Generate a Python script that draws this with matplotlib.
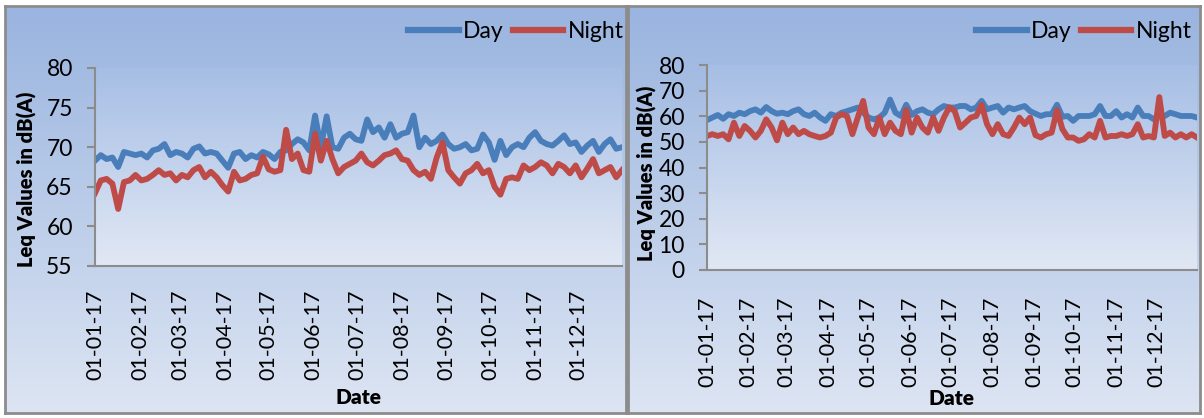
import numpy as np
import pandas as pd
import matplotlib

matplotlib.use("Agg")
import matplotlib.pyplot as plt
import matplotlib.dates as mdates
from matplotlib.colors import LinearSegmentedColormap

plt.rcParams["font.family"] = ["Lato", "DejaVu Sans"]

# Leq values, one value every 4 days from 01-01-2017
day_left = [
    68.3, 69.0, 68.5, 68.7, 67.5, 69.4, 69.2, 69.0, 69.2, 68.7,
    69.6, 69.8, 70.4, 69.0, 69.4, 69.2, 68.7, 69.8, 70.1, 69.2,
    69.4, 69.2, 68.3, 67.4, 69.2, 69.4, 68.5, 69.0, 68.7, 69.4,
    69.1, 68.5, 69.4, 69.6, 70.4, 71.0, 70.6, 69.6, 74.0, 70.0,
    73.9, 70.0, 69.8, 71.2, 71.7, 71.0, 70.8, 73.5, 71.9, 72.5,
    71.2, 72.9, 71.2, 71.7, 71.9, 74.0, 70.0, 71.2, 70.4, 70.8,
    71.6, 70.4, 69.8, 70.0, 70.4, 69.6, 69.8, 71.6, 70.6, 68.4,
    70.8, 69.0, 70.0, 70.4, 70.0, 71.2, 71.9, 70.8, 70.4, 70.2,
    70.8, 71.5, 70.4, 70.6, 69.4, 70.2, 70.8, 69.4, 70.4, 71.0,
    69.8, 70.0,
]
night_left = [
    64.2, 65.8, 66.0, 65.4, 62.2, 65.6, 65.8, 66.5, 65.8, 66.0,
    66.5, 67.1, 66.5, 66.7, 65.8, 66.5, 66.2, 67.1, 67.5, 66.2,
    66.9, 66.2, 65.2, 64.4, 66.9, 65.8, 66.0, 66.5, 66.7, 68.8,
    67.2, 66.9, 67.1, 72.2, 68.5, 69.2, 67.1, 66.9, 71.7, 68.3,
    70.8, 68.5, 66.7, 67.5, 67.9, 68.3, 69.2, 68.1, 67.7, 68.3,
    69.0, 69.2, 69.6, 68.5, 68.3, 67.1, 66.5, 66.9, 66.0, 68.7,
    70.6, 67.1, 66.2, 65.4, 66.7, 67.1, 67.9, 66.7, 67.1, 65.0,
    64.0, 66.0, 66.2, 66.0, 67.7, 67.1, 67.5, 68.1, 67.7, 66.7,
    67.9, 67.5, 66.7, 67.7, 66.2, 67.3, 68.5, 66.7, 67.1, 67.5,
    66.2, 67.1,
]
day_right = [
    58.5, 59.5, 60.5, 59.0, 60.8, 60.1, 61.4, 60.8, 62.0, 62.7,
    61.4, 63.6, 62.0, 61.0, 61.4, 60.8, 62.0, 62.7, 60.8, 60.1,
    61.4, 59.5, 58.2, 60.8, 60.1, 61.4, 62.0, 62.7, 63.4, 61.4,
    59.5, 58.8, 59.5, 61.4, 66.5, 61.4, 60.1, 64.5, 60.5, 62.0,
    62.7, 61.4, 60.8, 62.7, 64.0, 63.4, 63.4, 64.0, 64.0, 62.7,
    63.4, 66.0, 62.7, 63.4, 64.0, 61.4, 63.4, 62.7, 63.4, 64.0,
    62.0, 61.0, 60.1, 60.8, 60.8, 64.5, 59.8, 60.1, 58.2, 60.1,
    60.1, 60.1, 60.8, 64.0, 60.1, 60.1, 62.0, 59.5, 60.8, 59.5,
    63.4, 60.1, 60.1, 58.8, 60.8, 60.1, 61.4, 60.8, 60.1, 60.1,
    60.1, 59.5,
]
night_right = [
    52.3, 53.0, 52.3, 53.0, 51.0, 57.5, 52.3, 56.2, 54.3, 51.7,
    54.3, 58.8, 55.6, 50.6, 57.5, 53.0, 55.6, 53.0, 54.3, 53.0,
    52.3, 51.7, 52.3, 53.6, 59.5, 60.8, 60.1, 53.0, 59.5, 66.0,
    55.6, 53.0, 59.5, 53.0, 57.5, 54.3, 53.0, 62.5, 53.6, 59.5,
    55.6, 53.6, 59.5, 54.3, 59.5, 63.5, 62.0, 55.6, 57.5, 59.5,
    60.1, 64.5, 56.9, 53.0, 56.9, 53.0, 52.3, 55.6, 59.5, 56.9,
    59.5, 52.6, 51.7, 53.0, 53.6, 62.5, 55.0, 51.7, 51.7, 50.4,
    51.0, 53.0, 51.7, 58.2, 51.7, 52.3, 52.3, 53.0, 52.3, 53.0,
    56.9, 51.7, 52.3, 51.7, 67.5, 52.3, 53.6, 51.7, 53.0, 51.7,
    53.0, 51.7,
]
left_yticks = [55, 60, 65, 70, 75, 80]
right_yticks = [0, 10, 20, 30, 40, 50, 60, 70, 80]

dates = pd.date_range("2017-01-01", periods=len(day_left), freq="4D")

W, H = 1204, 418
BLUE = "#4A7EBB"
RED = "#BE4B48"
GREY = "#8C8C8C"
FS = 16.5

fig = plt.figure(figsize=(W / 100, H / 100), dpi=100)


def box(x0, y0, x1, y1):
    return [x0 / W, 1 - y1 / H, (x1 - x0) / W, (y1 - y0) / H]


def gradient_axes(rect, top, bottom, border):
    ax = fig.add_axes(rect)
    cmap = LinearSegmentedColormap.from_list("g", [bottom, top])
    ax.imshow(np.linspace(0, 1, 256).reshape(-1, 1), cmap=cmap,
              aspect="auto", extent=[0, 1, 0, 1], origin="lower")
    ax.set_xlim(0, 1)
    ax.set_ylim(0, 1)
    ax.set_xticks([])
    ax.set_yticks([])
    for s in ax.spines.values():
        s.set_visible(border)
        s.set_color(GREY)
        s.set_linewidth(2)
    return ax


def make_panel(panel, plot, day, night, ylim, yticks, ylab_pos, xtick_pad,
               legend_right):
    gradient_axes(box(*panel), "#99B4DF", "#DDE5F3", True)
    gradient_axes(box(*plot), "#A6BEE5", "#E1E8F4", False)
    ax = fig.add_axes(box(*plot))
    ax.patch.set_alpha(0)
    ax.plot(dates, day, color=BLUE, lw=4.2, label="Day",
            solid_joinstyle="round")
    ax.plot(dates, night, color=RED, lw=4.2, label="Night",
            solid_joinstyle="round")
    ax.set_xlim(pd.Timestamp("2017-01-01"), pd.Timestamp("2017-12-31"))
    ax.set_ylim(*ylim)
    ax.set_yticks(yticks)
    ax.xaxis.set_major_locator(mdates.MonthLocator())
    ax.xaxis.set_major_formatter(mdates.DateFormatter("%d-%m-%y"))
    ax.tick_params(axis="x", length=0, pad=xtick_pad, labelsize=FS - 1,
                   labelrotation=90)
    ax.tick_params(axis="y", length=6, width=1.5, color=GREY, pad=10,
                   labelsize=FS)
    for s in ["top", "right"]:
        ax.spines[s].set_visible(False)
    for s in ["left", "bottom"]:
        ax.spines[s].set_color(GREY)
        ax.spines[s].set_linewidth(1.5)
    ax.set_xlabel("Date", fontsize=15, fontweight="heavy")
    ax.xaxis.label.set_va("center")
    ax.set_ylabel("Leq Values in dB(A)", fontsize=14.5, fontweight="heavy")
    ax.yaxis.label.set_va("center")
    pw = plot[2] - plot[0]
    ph = plot[3] - plot[1]
    ax.xaxis.set_label_coords(0.5, (plot[3] - 398) / ph)
    ax.yaxis.set_label_coords((ylab_pos[0] - plot[0]) / pw,
                              (plot[3] - ylab_pos[1]) / ph)
    leg = ax.legend(loc="center right", ncol=2, frameon=False, fontsize=FS,
                    bbox_to_anchor=(legend_right / W, 1 - 32 / H),
                    bbox_transform=fig.transFigure, borderpad=0,
                    borderaxespad=0, handlelength=2.2, handletextpad=0.2,
                    columnspacing=0.4)
    for line in leg.get_lines():
        line.set_linewidth(4.5)
    return ax


make_panel((5, 6, 626, 413), (95, 68, 622, 266), day_left, night_left,
           (55, 80), left_yticks, (27, 179), 17, 624)
make_panel((628, 6, 1200, 413), (707, 65, 1197, 270), day_right, night_right,
           (0, 80), right_yticks, (647, 173), 19, 1192)

fig.savefig("out.png", dpi=100)
